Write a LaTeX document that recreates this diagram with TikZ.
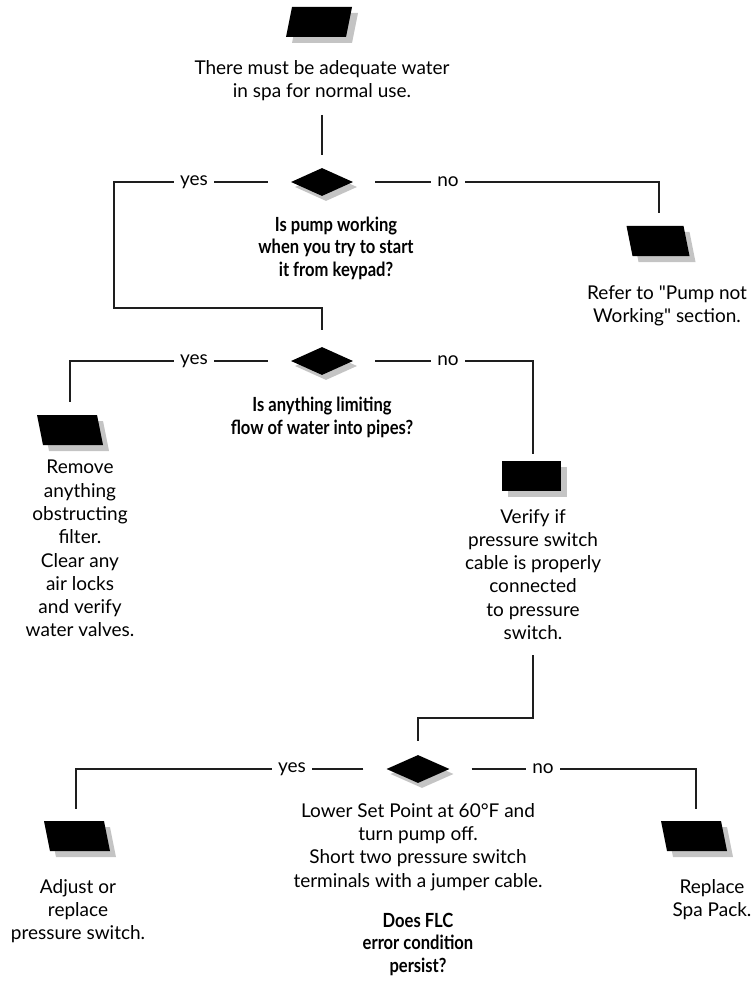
\documentclass[tikz,border=0pt]{standalone}
\usepackage{fontspec}
\setmainfont[Ligatures=TeXOff]{Lato}
\newfontfamily\qfont[FakeStretch=0.85]{Lato}
\usetikzlibrary{shapes.geometric,shadows}

\definecolor{shade}{HTML}{C4C4C4}
\definecolor{ink}{HTML}{1E1E1E}

\tikzset{
  flowline/.style={draw=ink, line width=1.2pt},
  answer/.style={fill=white, inner xsep=6pt, inner ysep=2pt, font=\fontsize{19}{22}\selectfont},
  decision/.style={diamond, fill=black, minimum width=62pt, minimum height=28pt, inner sep=0pt,
    drop shadow={shadow xshift=4pt, shadow yshift=-5pt, fill=shade, opacity=1}},
  slab/.style={rectangle, fill=black, minimum width=60pt, minimum height=30pt, inner sep=0pt,
    drop shadow={shadow xshift=6pt, shadow yshift=-6pt, fill=shade, opacity=1}},
  leanright/.style={slab, xslant=0.2},
  leanleft/.style={slab, xslant=-0.2},
  note/.style={align=center, anchor=north, inner sep=0pt, font=\fontsize{19}{23.3}\selectfont},
  question/.style={align=center, anchor=north, inner sep=0pt, font=\qfont\bfseries\fontsize{19.5}{22.3}\selectfont}
}

\begin{document}
\begin{tikzpicture}[x=1pt, y=-1pt]
  \useasboundingbox (0,0) rectangle (752,984);

  % ---- start ----
  \node[leanright] (start) at (319,22) {};
  \node[note] (intro) at (322,60) {There must be adequate water\\in spa for normal use.};
  \coordinate (a1) at (322,115);

  % ---- first decision: pump working? ----
  \node[decision] (d1) at (322,182) {};
  \node[question] (q1) at (336,217) {Is pump working\\when you try to start\\it from keypad?};
  \node[leanleft, minimum width=57pt] (p1) at (658,241) {};
  \node[note] (t1) at (667,285) {Refer to "Pump not\\Working" section.};

  % ---- second decision: flow limited? ----
  \node[decision] (d2) at (322,361) {};
  \node[question] (q2) at (322,397) {Is anything limiting\\flow of water into pipes?};
  \node[leanleft] (p2) at (70,430) {};
  \node[note] (t2) at (80,460) {Remove\\anything\\obstructing\\filter.\\Clear any\\air locks\\and verify\\water valves.};
  \node[slab, minimum width=59pt] (r1) at (531,476) {};
  \node[note] (t3) at (533,509) {Verify if\\pressure switch\\cable is properly\\connected\\to pressure\\switch.};
  \coordinate (a2) at (533,655);

  % ---- third decision: error persists? ----
  \node[decision, minimum width=63pt] (d3) at (418,769) {};
  \node[note] (t4) at (418,803) {Lower Set Point at 60°F and\\turn pump off.\\Short two pressure switch\\terminals with a jumper cable.};
  \node[question] (q3) at (418,913) {Does FLC\\error condition\\persist?};
  \node[leanleft] (p3) at (77,836) {};
  \node[note] (t5) at (78,879) {Adjust or\\replace\\pressure switch.};
  \node[leanleft] (p4) at (694,836) {};
  \node[note] (t6) at (712,879) {Replace\\Spa Pack.};

  % ---- connector corners and free ends ----
  \coordinate (k1) at (114,182);
  \coordinate (k2) at (322,308);
  \coordinate (k3) at (659,182);
  \coordinate (e1) at (659,213);
  \coordinate (k4) at (70,361);
  \coordinate (e2) at (70,402);
  \coordinate (k5) at (533,361);
  \coordinate (e3) at (533,454);
  \coordinate (k6) at (533,718);
  \coordinate (k7) at (418,718);
  \coordinate (k8) at (76,769);
  \coordinate (e4) at (76,809);
  \coordinate (k9) at (696,769);
  \coordinate (e5) at (696,809);

  % ---- connectors ----
  \draw[flowline] (a1) -- ([yshift=13pt]d1.north);
  \draw[flowline] ([xshift=-23pt]d1.west) -- (k1) |- (k2) -- ([yshift=17pt]d2.north);
  \draw[flowline] ([xshift=22pt]d1.east) -- (k3) -- (e1);
  \draw[flowline] ([xshift=-23pt]d2.west) -- (k4) -- (e2);
  \draw[flowline] ([xshift=22pt]d2.east) -- (k5) -- (e3);
  \draw[flowline] (a2) -- (k6) -- (k7) -- ([yshift=14pt]d3.north);
  \draw[flowline] ([xshift=-23pt]d3.west) -- (k8) -- (e4);
  \draw[flowline] ([xshift=22pt]d3.east) -- (k9) -- (e5);

  % ---- answer labels sitting on the lines ----
  \node[answer] (y1) at (194,182) {yes};
  \node[answer] (n1) at (448,182) {no};
  \node[answer] (y2) at (194,361) {yes};
  \node[answer] (n2) at (448,361) {no};
  \node[answer] (y3) at (292,769) {yes};
  \node[answer] (n3) at (543,769) {no};
\end{tikzpicture}
\end{document}
